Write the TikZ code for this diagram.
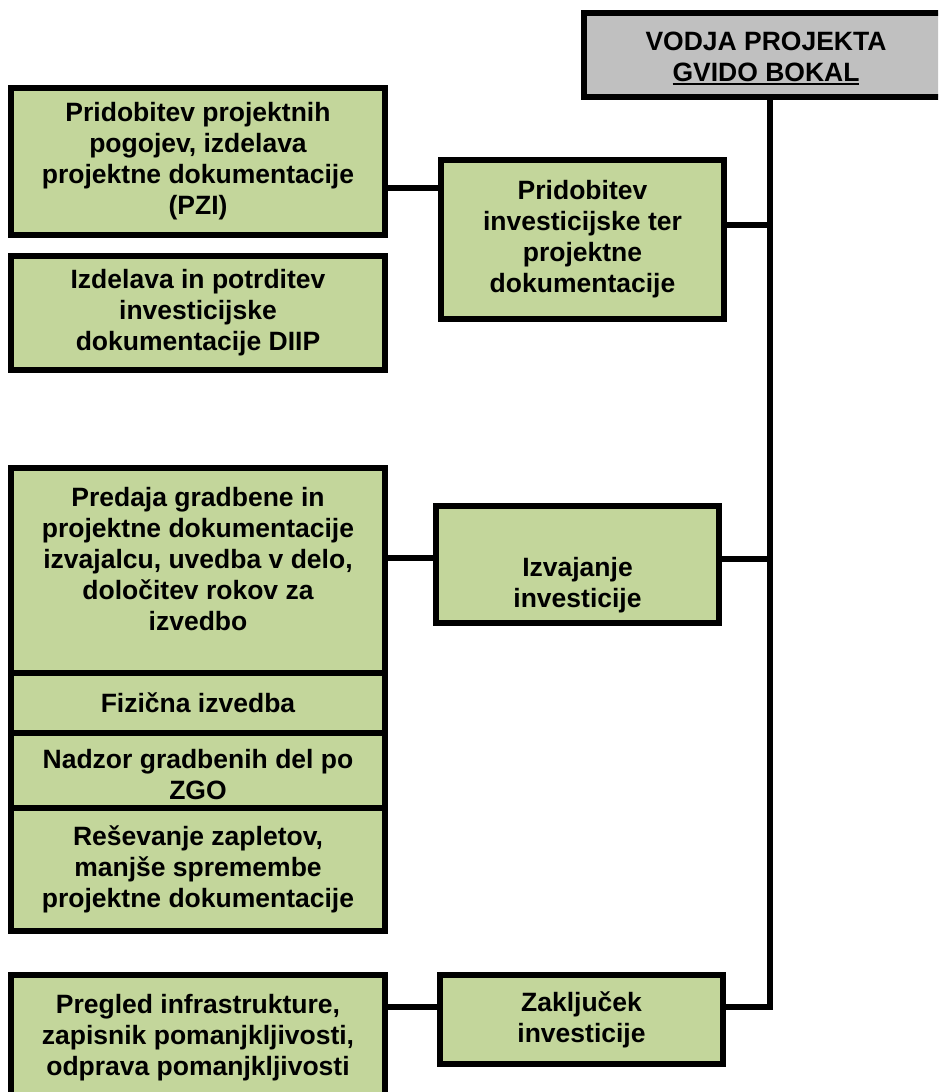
\documentclass[tikz,border=0pt]{standalone}
\usepackage{fontspec}
\setmainfont{Liberation Sans}
\definecolor{boxgreen}{RGB}{195,214,155}
\definecolor{boxgray}{RGB}{192,192,192}
\newcommand\myul[1]{\leavevmode\setbox0\hbox{#1}\rlap{\rule[-3.5pt]{\wd0}{2pt}}\box0}
\begin{document}
\begin{tikzpicture}[x=1pt,y=-1pt,
  every node/.style={font=\fontsize{26.5}{31}\selectfont\bfseries},
  box/.style={draw=black, line width=6pt, fill=boxgreen, align=center, inner sep=0pt, minimum width=374pt},
  midbox/.style={box, minimum width=283pt},
  headbox/.style={box, fill=boxgray, minimum width=364pt, minimum height=84pt},
  link/.style={draw=black, line width=6pt}
]
\useasboundingbox (0,0) rectangle (938,1092);
\fill[white] (0,0) rectangle (938,1092);
\clip (0,0) rectangle (938,1092);

% head
\node[headbox] (head) at (766,55) {\parbox[c][84pt][t]{364pt}{\centering\vspace{19pt}VODJA PROJEKTA\\\myul{GVIDO BOKAL}}};

% left column
\node[box, minimum height=147pt] (b1) at (198,161.5) {Pridobitev projektnih\\pogojev, izdelava\\projektne dokumentacije\\(PZI)};
\node[box, minimum height=114pt] (b2) at (198,313) {Izdelava in potrditev\\investicijske\\dokumentacije DIIP};
\node[box, minimum height=205pt] (b3) at (198,570.5) {\parbox[c][205pt][t]{374pt}{\centering\vspace{19pt}Predaja gradbene in\\projektne dokumentacije\\izvajalcu, uvedba v delo,\\določitev rokov za\\izvedbo}};
\node[box, minimum height=60pt] (fiz) at (198,703) {Fizična izvedba};
\node[box, minimum height=75pt] (nad) at (198,770.5) {\parbox[c][75pt][t]{374pt}{\centering\vspace{16pt}Nadzor gradbenih del po\\ZGO}};
\node[box, minimum height=123pt] (res) at (198,869.5) {Reševanje zapletov,\\manjše spremembe\\projektne dokumentacije};
\node[box, minimum height=125pt] (b4) at (198,1037.5) {Pregled infrastrukture,\\zapisnik pomanjkljivosti,\\odprava pomanjkljivosti};

% middle column
\node[midbox, minimum height=159pt] (m1) at (582.5,239.5) {Pridobitev\\investicijske ter\\projektne\\dokumentacije};
\node[midbox, minimum height=117pt] (m2) at (577.5,564.5) {\parbox[c][117pt][t]{283pt}{\centering\vspace{51pt}Izvajanje\\investicije}};
\node[midbox, minimum height=89pt] (m3) at (581.5,1019.5) {Zaključek\\investicije};

% connectors
\coordinate (sp) at (770,0);
\coordinate (ya) at (0,188);
\coordinate (yb) at (0,225);
\coordinate (yc) at (0,558);
\coordinate (yd) at (0,559);
\coordinate (ye) at (0,1007);
\draw[link] (b1.east |- ya) -- (m1.west |- ya);
\draw[link] (m1.east |- yb) -- (sp |- yb);
\draw[link] (b3.east |- yc) -- (m2.west |- yc);
\draw[link] (m2.east |- yd) -- (sp |- yd);
\draw[link] (b4.east |- ye) -- (m3.west |- ye);
\draw[link] (sp |- head.south) -- (sp |- ye) -- (m3.east |- ye);
\end{tikzpicture}
\end{document}
